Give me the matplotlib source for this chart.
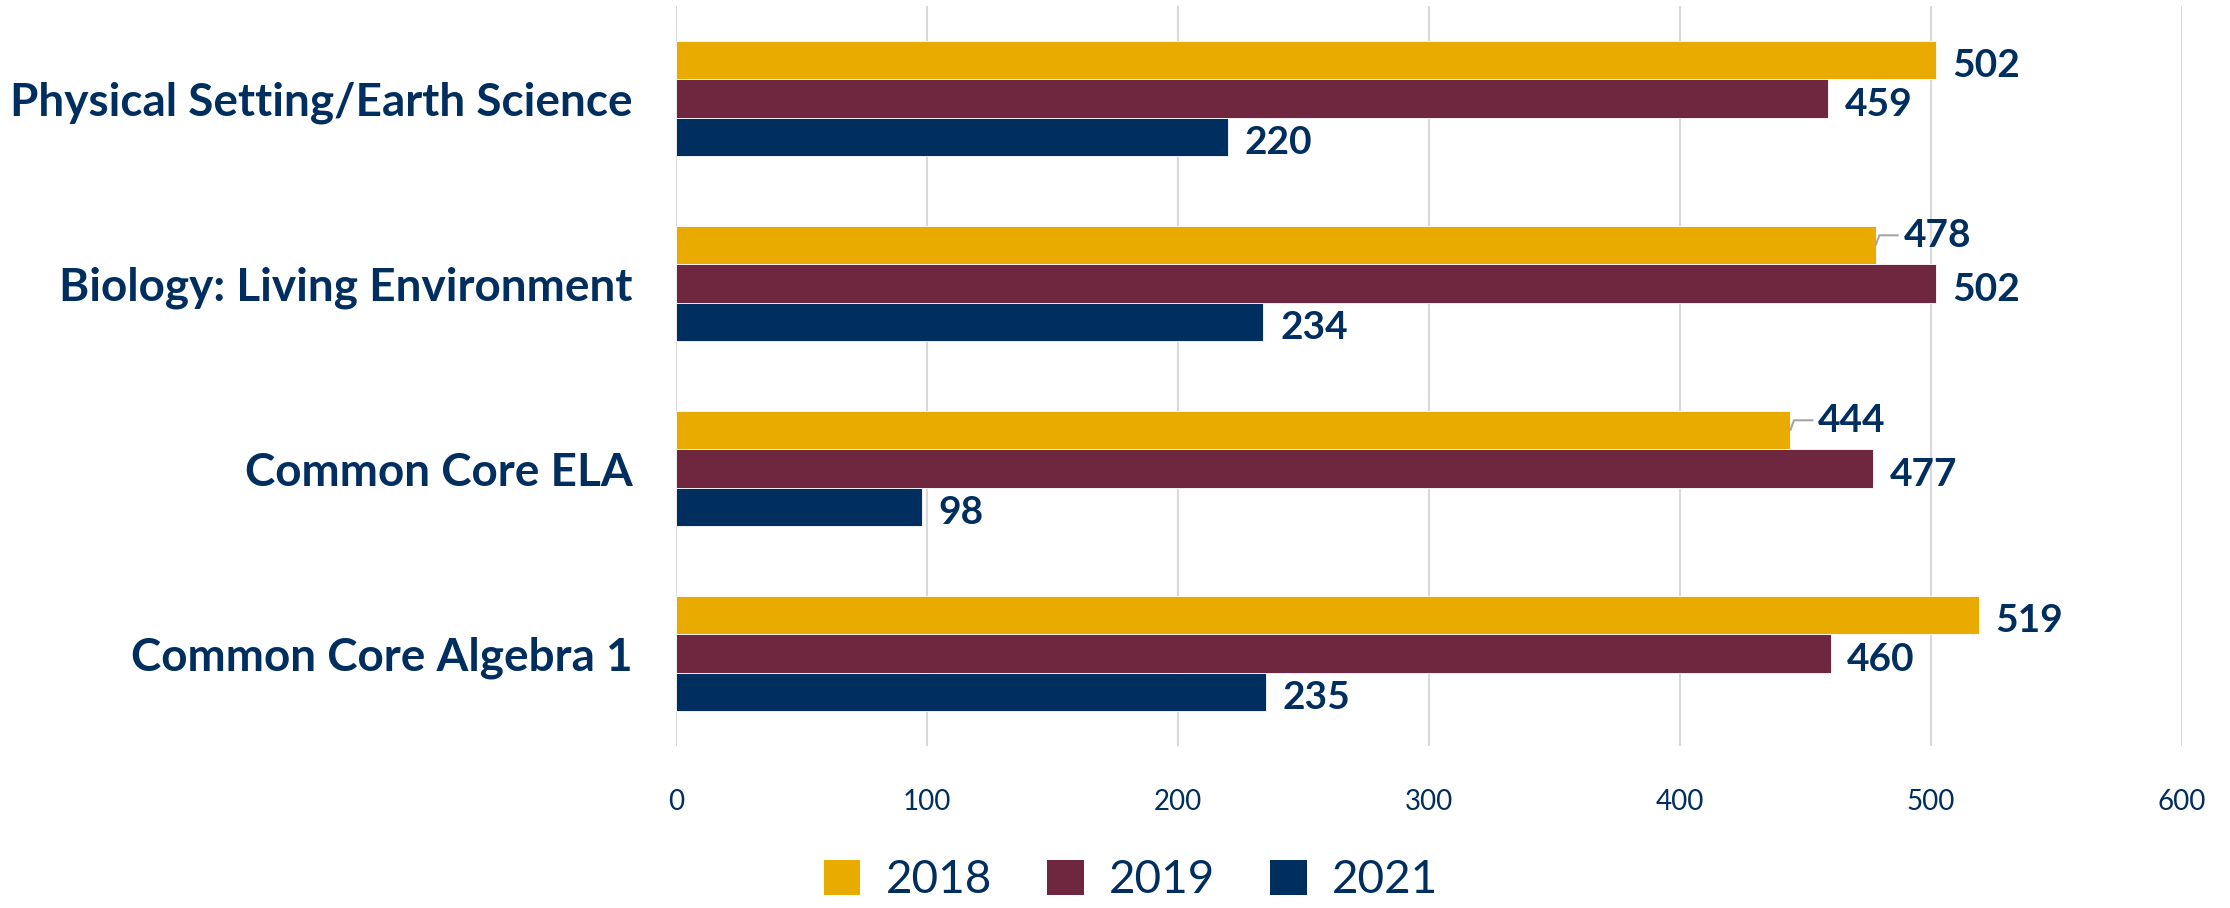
import numpy as np
import matplotlib.pyplot as plt
from matplotlib.patches import Patch

categories = ['Physical Setting/Earth Science', 'Biology: Living Environment',
              'Common Core ELA', 'Common Core Algebra 1']
years = ['2018', '2019', '2021']
vals_2018 = [502, 478, 444, 519]
vals_2019 = [459, 502, 477, 460]
vals_2021 = [220, 234, 98, 235]
xticks = [0, 100, 200, 300, 400, 500, 600]

colors = ['#E9AB00', '#6E273E', '#002E5E']
navy = '#002E5E'
plt.rcParams['font.family'] = ['Lato', 'DejaVu Sans']

fig = plt.figure(figsize=(22.3, 9.08), dpi=100)
ax = fig.add_axes([676/2230, 1-746/908, (2182-676)/2230, 740/908])

y = np.arange(len(categories))
h = 0.208
series = [vals_2018, vals_2019, vals_2021]
for i, (vals, c) in enumerate(zip(series, colors)):
    ypos = y + (i - 1) * h
    ax.barh(ypos, vals, height=h, color=c, edgecolor='white', linewidth=0.6, zorder=3)
    for j, v in enumerate(vals):
        # the 2018 labels that would crowd the 2019 ones get a leader line
        if i == 0 and vals_2019[j] > v:
            ax.annotate(str(v), xy=(v, ypos[j]), xytext=(20, 7), textcoords='offset points',
                        va='center', ha='left', fontsize=28, fontweight='bold', color=navy,
                        arrowprops=dict(arrowstyle='-', color='#a6a6a6', lw=1.5,
                                        connectionstyle='angle,angleA=0,angleB=70,rad=0',
                                        shrinkA=2, shrinkB=0))
        else:
            ax.annotate(str(v), xy=(v, ypos[j]), xytext=(12, -4), textcoords='offset points',
                        va='center', ha='left', fontsize=28, fontweight='bold', color=navy)

ax.set_xlim(0, 600)
ax.set_ylim(len(categories) - 0.5, -0.5)
ax.set_yticks(y)
ax.set_yticklabels(categories, fontsize=33, fontweight='bold', color=navy)
ax.set_xticks(xticks)
ax.set_xticklabels([str(t) for t in xticks], fontsize=20, color=navy)
ax.tick_params(axis='both', length=0)
ax.tick_params(axis='x', pad=31)
ax.tick_params(axis='y', pad=31)
ax.grid(axis='x', color='#d9d9d9', linewidth=1.5, zorder=0)
ax.set_axisbelow(True)
for s in ax.spines.values():
    s.set_visible(False)

handles = [Patch(facecolor=c, label=yr) for c, yr in zip(colors, years)]
leg = fig.legend(handles=handles, loc='center', bbox_to_anchor=(1131/2230, 1-880/908),
                 ncol=3, frameon=False, fontsize=33, handlelength=0.8, handleheight=0.8,
                 handletextpad=0.55, columnspacing=1.2)
for t in leg.get_texts():
    t.set_color(navy)

fig.savefig('out.png', dpi=100)
